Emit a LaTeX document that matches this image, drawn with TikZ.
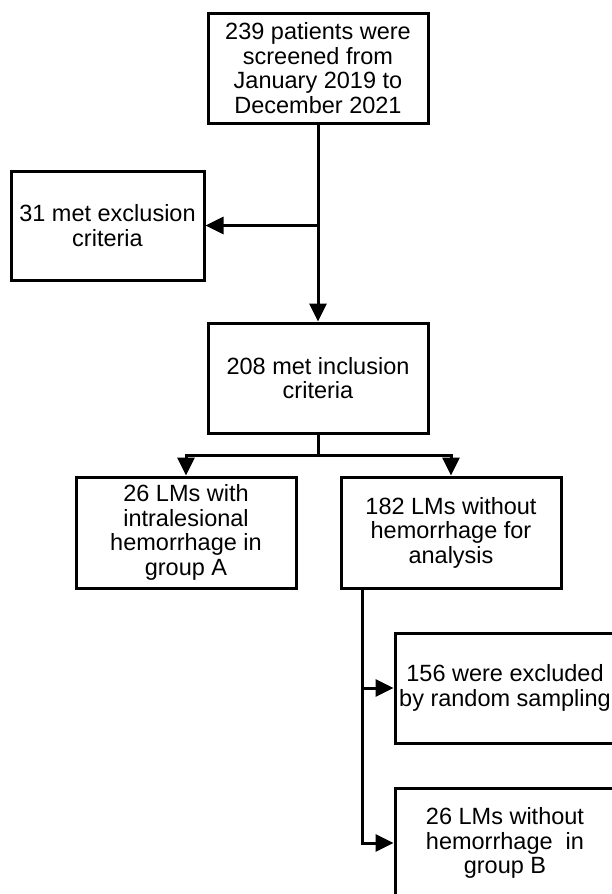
\documentclass[tikz,border=0pt]{standalone}
\usepackage{fontspec}
\setmainfont{Liberation Sans}
\usetikzlibrary{arrows.meta,positioning}

\begin{document}
\begin{tikzpicture}[x=1pt,y=-1pt,
  every node/.style={font=\fontsize{23.5}{24.5}\selectfont},
  box/.style={draw,rectangle,line width=3pt,align=center,inner sep=0pt,
    minimum width=220pt,minimum height=110pt},
  line/.style={line width=3pt},
  arrow/.style={line,-{Triangle[length=18pt,width=17pt]}}]
 \useasboundingbox (0,0) rectangle (611,894);

 \node[box] (screened) at (318,68) {239 patients were\\screened from\\January 2019 to\\December 2021};
 \node[box,minimum width=193pt,minimum height=109pt] (excluded) at (107.5,225.5) {31 met exclusion\\criteria};
 \node[box] (included) at (318,378) {208 met inclusion\\criteria};
 \node[box,minimum height=111pt] (groupA) at (186,532.5) {26 LMs with\\intralesional\\hemorrhage in\\group A};
 \node[box,minimum height=111pt] (nohemo) at (451,532.5) {182 LMs without\\hemorrhage for\\analysis};
 \node[box] (sampling) at (505,688) {156 were excluded\\by random sampling};
 \node[box] (groupB) at (505,843) {26 LMs without\\hemorrhage\ \ in\\group B};

 \coordinate (split) at (318,455);
 \coordinate (trunk) at (362,588);

 \draw[arrow] (screened.south) -- (included.north);
 \draw[arrow] (excluded.east -| screened.south) -- (excluded.east);
 \draw[line] (included.south) -- (split);
 \draw[arrow] (split) -| (groupA.north);
 \draw[arrow] (split) -| (nohemo.north);
 \draw[arrow] (trunk) |- (sampling.west);
 \draw[arrow] (trunk) |- (groupB.west);
\end{tikzpicture}
\end{document}
